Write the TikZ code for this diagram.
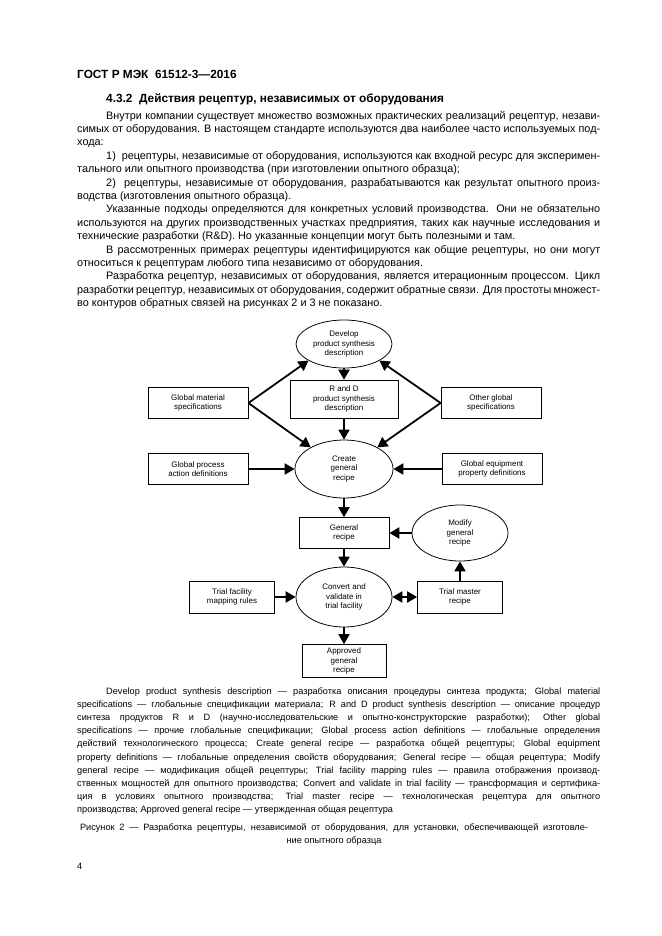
\documentclass[tikz,border=0pt]{standalone}
\usepackage{fontspec}
\setmainfont{Liberation Sans}
\usetikzlibrary{shapes.geometric, arrows.meta}

\newlength\pxu
\setlength\pxu{0.03177cm}

% a justified line of running text, stretched to the right margin
\newcommand\jline[4]{%
    \node[textline] (#1) at (#2,#3) {\makebox[\dimexpr 600\pxu-#2\pxu\relax][s]{#4}};}
% the last line of a paragraph
\newcommand\pline[4]{%
    \node[textline] (#1) at (#2,#3) {#4};}

\begin{document}
\begin{tikzpicture}[
        x = \pxu,
        y = -\pxu,
        >={Triangle[length=9pt, width=10pt]},
        textline/.style = {
                anchor = base west,
                inner sep = 0pt,
                font = \fontsize{9.8}{11}\selectfont
            },
        box/.style = {
                draw,
                line width = 0.7pt,
                align = center,
                inner sep = 1pt,
                minimum width = 100\pxu,
                minimum height = 31\pxu,
                font = \fontsize{7.2}{8.3}\selectfont
            },
        oval/.style = {
                box,
                ellipse,
                inner sep = 0pt,
                minimum width = 96\pxu,
                minimum height = 50\pxu
            },
        arr/.style = {line width = 1.6pt, ->}
    ]

    \fill[white] (0,0) rectangle (661,936);
    \useasboundingbox (0,0) rectangle (661,936);

    % page head and running text
    \node[textline, font=\fontsize{10.7}{12}\selectfont\bfseries] (head) at (77,78) {ГОСТ Р МЭК\ \ 61512-3—2016};
    \node[textline, font=\fontsize{10.7}{12}\selectfont\bfseries] (title) at (106,102) {4.3.2\ \ Действия рецептур, независимых от оборудования};

    \jline{t0}{106}{119}{Внутри компании существует множество возможных практических реализаций рецептур, незави-}
    \jline{t1}{77}{132.4}{симых от оборудования. В настоящем стандарте используются два наиболее часто используемых под-}
    \pline{t2}{77}{145.8}{хода:}
    \jline{t3}{106}{159.2}{1)\ \ рецептуры, независимые от оборудования, используются как входной ресурс для эксперимен-}
    \pline{t4}{77}{172.6}{тального или опытного производства (при изготовлении опытного образца);}
    \jline{t5}{106}{186}{2)\ \ рецептуры, независимые от оборудования, разрабатываются как результат опытного произ-}
    \pline{t6}{77}{199.4}{водства (изготовления опытного образца).}
    \jline{t7}{106}{212.8}{Указанные подходы определяются для конкретных условий производства. Они не обязательно}
    \jline{t8}{77}{226.2}{используются на других производственных участках предприятия, таких как научные исследования и}
    \pline{t9}{77}{239.6}{технические разработки (R\&D). Но указанные концепции могут быть полезными и там.}
    \jline{t10}{106}{253}{В рассмотренных примерах рецептуры идентифицируются как общие рецептуры, но они могут}
    \pline{t11}{77}{266.4}{относиться к рецептурам любого типа независимо от оборудования.}
    \jline{t12}{106}{279.8}{Разработка рецептур, независимых от оборудования, является итерационным процессом. Цикл}
    \jline{t13}{77}{293.2}{разработки рецептур, независимых от оборудования, содержит обратные связи. Для простоты множест-}
    \pline{t14}{77}{306.6}{во контуров обратных связей на рисунках 2 и 3 не показано.}

    % the diagram
    \node[oval, minimum height=48\pxu] (develop) at (344,344) {Develop\\product synthesis\\description};
    \node[box, minimum width=108\pxu, minimum height=38\pxu] (randd) at (344,399) {R and D\\product synthesis\\description};
    \node[box] (material) at (198,403) {Global material\\specifications};
    \node[box] (otherspec) at (491,403) {Other global\\specifications};
    \node[oval, minimum width=98\pxu, minimum height=58\pxu] (create) at (344,469) {Create\\general\\recipe};
    \node[box] (process) at (198,469) {Global process\\action definitions};
    \node[box] (equipment) at (492,469) {Global equipment\\property definitions};
    \node[box, minimum width=90\pxu] (general) at (344,533) {General\\recipe};
    \node[oval, minimum height=56\pxu] (modify) at (460,533) {Modify\\general\\recipe};
    \node[oval, minimum height=60\pxu] (convert) at (344,597) {Convert and\\validate in\\trial facility};
    \node[box, minimum width=85\pxu, minimum height=32\pxu] (mapping) at (232,597) {Trial facility\\mapping rules};
    \node[box, minimum width=85\pxu, minimum height=32\pxu] (master) at (460,597) {Trial master\\recipe};
    \node[box, minimum width=84\pxu, minimum height=33\pxu] (approved) at (344,661) {Approved\\general\\recipe};

    \draw[arr] (develop) -- (randd);
    \draw[arr] (randd) -- (create);
    \draw[arr] (material.east) -- (develop.205);
    \draw[arr] (material.east) -- (create.147);
    \draw[arr] (otherspec.west) -- (develop.335);
    \draw[arr] (otherspec.west) -- (create.33);
    \draw[arr] (process) -- (create);
    \draw[arr] (equipment) -- (create);
    \draw[arr] (create) -- (general);
    \draw[arr] (modify) -- (general);
    \draw[arr] (general) -- (convert);
    \draw[arr] (mapping) -- (convert);
    \draw[arr, <->] (convert) -- (master);
    \draw[arr] (master) -- (modify);
    \draw[arr] (convert) -- (approved);

    % legend and caption
    \begin{scope}[textline/.style = {anchor = base west, inner sep = 0pt, font = \fontsize{8.3}{10}\selectfont}]
        \jline{k0}{106}{694}{Develop product synthesis description — разработка описания процедуры синтеза продукта; Global material}
        \jline{k1}{77}{707.2}{specifications — глобальные спецификации материала; R and D product synthesis description — описание процедур}
        \jline{k2}{77}{720.4}{синтеза продуктов R и D (научно-исследовательские и опытно-конструкторские разработки); Other global}
        \jline{k3}{77}{733.6}{specifications — прочие глобальные спецификации; Global process action definitions — глобальные определения}
        \jline{k4}{77}{746.8}{действий технологического процесса; Create general recipe — разработка общей рецептуры; Global equipment}
        \jline{k5}{77}{760}{property definitions — глобальные определения свойств оборудования; General recipe — общая рецептура; Modify}
        \jline{k6}{77}{773.2}{general recipe — модификация общей рецептуры; Trial facility mapping rules — правила отображения производ-}
        \jline{k7}{77}{786.4}{ственных мощностей для опытного производства; Convert and validate in trial facility — трансформация и сертифика-}
        \jline{k8}{77}{799.6}{ция в условиях опытного производства; Trial master recipe — технологическая рецептура для опытного}
        \pline{k9}{77}{812.8}{производства; Approved general recipe — утвержденная общая рецептура}
        \node[textline, anchor=base] (cap1) at (334,830) {\makebox[508\pxu][s]{Рисунок 2 — Разработка рецептуры, независимой от оборудования, для установки, обеспечивающей изготовле-}};
        \node[textline, anchor=base] (cap2) at (334,843) {ние опытного образца};
        \pline{pageno}{77}{869}{4}
    \end{scope}

\end{tikzpicture}
\end{document}
